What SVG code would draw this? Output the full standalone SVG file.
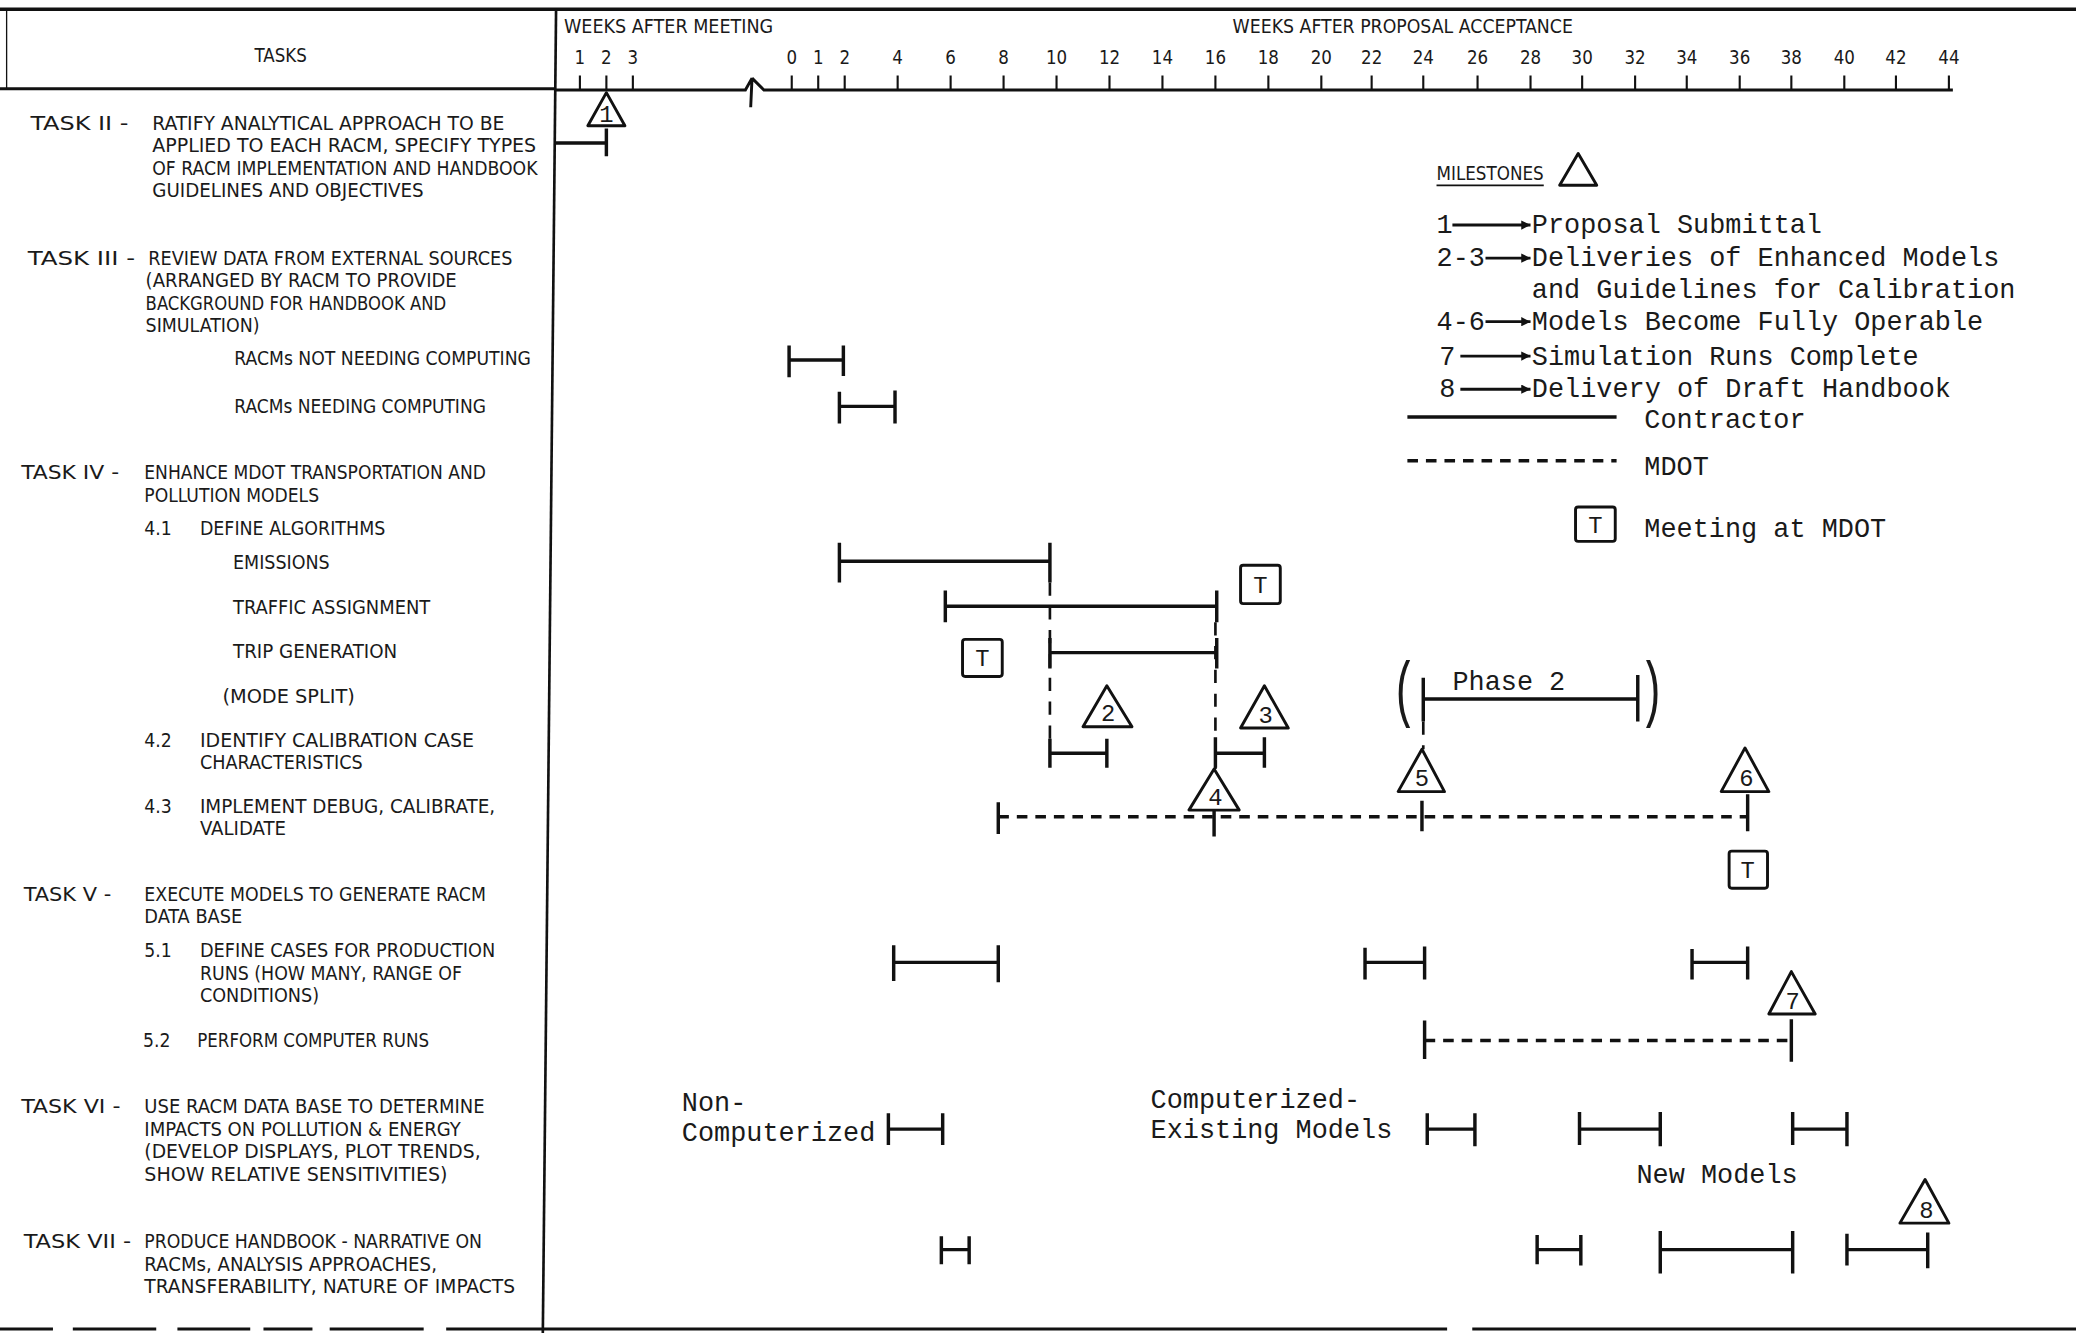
<svg xmlns="http://www.w3.org/2000/svg" width="2076" height="1333" viewBox="0 0 2076 1333">
<style>
.t{font-family:"DejaVu Sans Condensed","Liberation Sans Narrow","DejaVu Sans","Liberation Sans",sans-serif;font-size:14.5px;fill:#1a1a1a}
.k{font-size:14px}
.m{font-family:"Liberation Mono","DejaVu Sans Mono",monospace;font-size:20.3px;fill:#1a1a1a}
.d{font-family:"Liberation Mono","DejaVu Sans Mono",monospace;font-size:18px;fill:#1a1a1a;text-anchor:middle}
.n{text-anchor:middle}
.bar{fill:none;stroke:#111;stroke-width:2.6}
.dash{fill:none;stroke:#111;stroke-width:2.6;stroke-dasharray:8 6}
.vd{fill:none;stroke:#111;stroke-width:2;stroke-dasharray:10 8}
.tri{fill:#fff;stroke:#111;stroke-width:2.2;stroke-linejoin:round}
.box{fill:#fff;stroke:#111;stroke-width:2.2}
.ln{fill:none;stroke:#111}
</style>
<defs>
<marker id="ah" viewBox="0 0 10 10" refX="10" refY="5" markerWidth="11" markerHeight="7" markerUnits="userSpaceOnUse" orient="auto"><path d="M0,0 L10,5 L0,10 z" fill="#111"/></marker>
</defs>
<rect width="2076" height="1333" fill="#fff"/>
<g transform="scale(1.32398,1.32373)">
<g id="frame">
<path class="ln" stroke-width="2.8" d="M0,7 H1568"/>
<path class="ln" stroke-width="1" d="M5,8 V68"/>
<path class="ln" stroke-width="2.2" d="M0,67 H419"/>
<path class="ln" stroke-width="2" d="M420,7 L410,1007"/>
<path class="ln" stroke-width="2.2" d="M0,1004 H40 M55,1004 H118 M134,1004 H189 M199,1004 H236 M249,1004 H320 M337,1004 H1093 M1112,1004 H1568"/>
</g>
<g id="axis">
<text class="t n k" x="212" y="47">TASKS</text>
<text class="t k" x="426" y="25" textLength="158" lengthAdjust="spacingAndGlyphs">WEEKS AFTER MEETING</text>
<text class="t k" x="931" y="25" textLength="257" lengthAdjust="spacingAndGlyphs">WEEKS AFTER PROPOSAL ACCEPTANCE</text>
<path class="ln" stroke-width="2.2" d="M419,68 H563 L568,59 L567,81 M568,59 L577,68 H1475"/>
<path class="ln" stroke-width="1.6" d="M438,57V68 M458,57V68 M478,57V68 M598,57V68 M618,57V68 M638,57V68 M678,57V68 M718,57V68 M758,57V68 M798,57V68 M838,57V68 M878,57V68 M918,57V68 M958,57V68 M998,57V68 M1036,57V68 M1075,57V68 M1116,57V68 M1156,57V68 M1195,57V68 M1235,57V68 M1274,57V68 M1314,57V68 M1353,57V68 M1393,57V68 M1432,57V68 M1472,57V68"/>
<g class="t n k">
<text x="438" y="48">1</text><text x="458" y="48">2</text><text x="478" y="48">3</text>
<text x="598" y="48">0</text><text x="618" y="48">1</text><text x="638" y="48">2</text><text x="678" y="48">4</text><text x="718" y="48">6</text><text x="758" y="48">8</text>
<text x="798" y="48">10</text><text x="838" y="48">12</text><text x="878" y="48">14</text><text x="918" y="48">16</text><text x="958" y="48">18</text><text x="998" y="48">20</text>
<text x="1036" y="48">22</text><text x="1075" y="48">24</text><text x="1116" y="48">26</text><text x="1156" y="48">28</text><text x="1195" y="48">30</text><text x="1235" y="48">32</text>
<text x="1274" y="48">34</text><text x="1314" y="48">36</text><text x="1353" y="48">38</text><text x="1393" y="48">40</text><text x="1432" y="48">42</text><text x="1472" y="48">44</text>
</g>
</g>
<g id="task-labels" class="t">
<g id="task2-label">
<text x="23" y="98" textLength="74" lengthAdjust="spacingAndGlyphs">TASK II -</text>
<text x="115" y="98" textLength="266" lengthAdjust="spacingAndGlyphs">RATIFY ANALYTICAL APPROACH TO BE</text>
<text x="115" y="115" textLength="290" lengthAdjust="spacingAndGlyphs">APPLIED TO EACH RACM, SPECIFY TYPES</text>
<text x="115" y="132" textLength="291" lengthAdjust="spacingAndGlyphs">OF RACM IMPLEMENTATION AND HANDBOOK</text>
<text x="115" y="149" textLength="205" lengthAdjust="spacingAndGlyphs">GUIDELINES AND OBJECTIVES</text>
</g>
<g id="task3-label">
<text x="21" y="200" textLength="81" lengthAdjust="spacingAndGlyphs">TASK III -</text>
<text x="112" y="200" textLength="275" lengthAdjust="spacingAndGlyphs">REVIEW DATA FROM EXTERNAL SOURCES</text>
<text x="110" y="217" textLength="235" lengthAdjust="spacingAndGlyphs">(ARRANGED BY RACM TO PROVIDE</text>
<text x="110" y="234" textLength="227" lengthAdjust="spacingAndGlyphs">BACKGROUND FOR HANDBOOK AND</text>
<text x="110" y="251" textLength="86" lengthAdjust="spacingAndGlyphs">SIMULATION)</text>
<text x="177" y="276" textLength="224" lengthAdjust="spacingAndGlyphs">RACMs NOT NEEDING COMPUTING</text>
<text x="177" y="312" textLength="190" lengthAdjust="spacingAndGlyphs">RACMs NEEDING COMPUTING</text>
</g>
<g id="task4-label">
<text x="16" y="362" textLength="74" lengthAdjust="spacingAndGlyphs">TASK IV -</text>
<text x="109" y="362" textLength="258" lengthAdjust="spacingAndGlyphs">ENHANCE MDOT TRANSPORTATION AND</text>
<text x="109" y="379" textLength="132" lengthAdjust="spacingAndGlyphs">POLLUTION MODELS</text>
<text x="109" y="404">4.1</text>
<text x="151" y="404" textLength="140" lengthAdjust="spacingAndGlyphs">DEFINE ALGORITHMS</text>
<text x="176" y="430" textLength="73" lengthAdjust="spacingAndGlyphs">EMISSIONS</text>
<text x="176" y="464" textLength="149" lengthAdjust="spacingAndGlyphs">TRAFFIC ASSIGNMENT</text>
<text x="176" y="497" textLength="124" lengthAdjust="spacingAndGlyphs">TRIP GENERATION</text>
<text x="168" y="531" textLength="100" lengthAdjust="spacingAndGlyphs">(MODE SPLIT)</text>
<text x="109" y="564">4.2</text>
<text x="151" y="564" textLength="207" lengthAdjust="spacingAndGlyphs">IDENTIFY CALIBRATION CASE</text>
<text x="151" y="581" textLength="123" lengthAdjust="spacingAndGlyphs">CHARACTERISTICS</text>
<text x="109" y="614">4.3</text>
<text x="151" y="614" textLength="223" lengthAdjust="spacingAndGlyphs">IMPLEMENT DEBUG, CALIBRATE,</text>
<text x="151" y="631" textLength="65" lengthAdjust="spacingAndGlyphs">VALIDATE</text>
</g>
<g id="task5-label">
<text x="18" y="681" textLength="66" lengthAdjust="spacingAndGlyphs">TASK V -</text>
<text x="109" y="681" textLength="258" lengthAdjust="spacingAndGlyphs">EXECUTE MODELS TO GENERATE RACM</text>
<text x="109" y="697" textLength="74" lengthAdjust="spacingAndGlyphs">DATA BASE</text>
<text x="109" y="723">5.1</text>
<text x="151" y="723" textLength="223" lengthAdjust="spacingAndGlyphs">DEFINE CASES FOR PRODUCTION</text>
<text x="151" y="740" textLength="198" lengthAdjust="spacingAndGlyphs">RUNS (HOW MANY, RANGE OF</text>
<text x="151" y="757" textLength="90" lengthAdjust="spacingAndGlyphs">CONDITIONS)</text>
<text x="108" y="791">5.2</text>
<text x="149" y="791" textLength="175" lengthAdjust="spacingAndGlyphs">PERFORM COMPUTER RUNS</text>
</g>
<g id="task6-label">
<text x="16" y="841" textLength="75" lengthAdjust="spacingAndGlyphs">TASK VI -</text>
<text x="109" y="841" textLength="257" lengthAdjust="spacingAndGlyphs">USE RACM DATA BASE TO DETERMINE</text>
<text x="109" y="858" textLength="239" lengthAdjust="spacingAndGlyphs">IMPACTS ON POLLUTION &amp; ENERGY</text>
<text x="109" y="875" textLength="254" lengthAdjust="spacingAndGlyphs">(DEVELOP DISPLAYS, PLOT TRENDS,</text>
<text x="109" y="892" textLength="229" lengthAdjust="spacingAndGlyphs">SHOW RELATIVE SENSITIVITIES)</text>
</g>
<g id="task7-label">
<text x="18" y="943" textLength="81" lengthAdjust="spacingAndGlyphs">TASK VII -</text>
<text x="109" y="943" textLength="255" lengthAdjust="spacingAndGlyphs">PRODUCE HANDBOOK - NARRATIVE ON</text>
<text x="109" y="960" textLength="221" lengthAdjust="spacingAndGlyphs">RACMs, ANALYSIS APPROACHES,</text>
<text x="109" y="977" textLength="280" lengthAdjust="spacingAndGlyphs">TRANSFERABILITY, NATURE OF IMPACTS</text>
</g>
</g>
<g id="connectors">
<path class="vd" d="M793,440 V559"/>
<path class="vd" d="M918,470 V581"/>
<path class="vd" d="M1075,545 V566"/>
</g>
<g id="bars">
<path id="bar-task2" class="bar" d="M419,108 H458 M458,97 V118"/>
<path id="bar-3a" class="bar" d="M596,261 V285 M596,272 H637 M637,261 V284"/>
<path id="bar-3b" class="bar" d="M634,296 V320 M634,307 H676 M676,295 V320"/>
<path id="bar-emissions" class="bar" d="M634,410 V440 M634,424 H793 M793,410 V440"/>
<path id="bar-traffic" class="bar" d="M714,446 V470 M714,458 H919 M919,446 V470"/>
<path id="bar-tripgen" class="bar" d="M793,482 V505 M793,493 H919 M919,482 V505"/>
<path id="bar-42a" class="bar" d="M793,558 V580 M793,569 H836 M836,558 V580"/>
<path id="bar-42b" class="bar" d="M918,557 V580 M918,569 H955 M955,557 V580"/>
<path id="bar-phase2" class="bar" d="M1075,512 V545 M1075,528 H1237 M1237,510 V545"/>
<path id="bar-43" class="dash" d="M754,617 H1320"/>
<path class="bar" d="M754,606 V630 M917,605 V632 M1074,605 V628 M1320,600 V628"/>
<path id="bar-51a" class="bar" d="M675,714 V741 M675,727 H754 M754,714 V742"/>
<path id="bar-51b" class="bar" d="M1031,716 V740 M1031,727 H1076 M1076,715 V740"/>
<path id="bar-51c" class="bar" d="M1278,717 V740 M1278,727 H1320 M1320,715 V740"/>
<path id="bar-52" class="dash" d="M1076,786 H1353"/>
<path class="bar" d="M1076,771 V800 M1353,770 V802"/>
<path id="bar-6a" class="bar" d="M671,841 V865 M671,853 H712 M712,841 V865"/>
<path id="bar-6b" class="bar" d="M1078,841 V865 M1078,853 H1114 M1114,841 V866"/>
<path id="bar-6c" class="bar" d="M1193,840 V865 M1193,853 H1254 M1254,840 V866"/>
<path id="bar-6d" class="bar" d="M1354,840 V865 M1354,853 H1395 M1395,840 V866"/>
<path id="bar-7a" class="bar" d="M711,934 V955 M711,944 H732 M732,934 V955"/>
<path id="bar-7b" class="bar" d="M1161,933 V955 M1161,944 H1194 M1194,933 V956"/>
<path id="bar-7c" class="bar" d="M1254,930 V962 M1254,944 H1354 M1354,930 V962"/>
<path id="bar-7d" class="bar" d="M1395,932 V956 M1395,944 H1456 M1456,931 V958"/>
</g>
<g id="bar-labels" class="m">
<text x="1097" y="521">Phase 2</text>
<text x="1051" y="539" font-size="54" transform="translate(1051,539) scale(0.6,1) translate(-1051,-539)">(</text>
<text x="1238" y="539" font-size="54" transform="translate(1238,539) scale(0.6,1) translate(-1238,-539)">)</text>
<text x="515" y="839">Non-</text>
<text x="515" y="862">Computerized</text>
<text x="869" y="837">Computerized-</text>
<text x="869" y="860">Existing Models</text>
<text x="1236" y="894">New Models</text>
</g>
<g id="milestone-1"><path class="tri" d="M458,70 L472,95 L444,95 Z"/><text class="d" x="458" y="92" font-size="15">1</text></g>
<g id="milestone-2"><path class="tri" d="M836,518 L855,549 L818,549 Z"/><text class="d" x="837" y="545">2</text></g>
<g id="milestone-3"><path class="tri" d="M955,518 L973,550 L937,550 Z"/><text class="d" x="956" y="546">3</text></g>
<g id="milestone-4"><path class="tri" d="M917,581 L936,612 L898,612 Z"/><text class="d" x="918" y="608">4</text></g>
<g id="milestone-5"><path class="tri" d="M1074,566 L1091,598 L1056,598 Z"/><text class="d" x="1074" y="594">5</text></g>
<g id="milestone-6"><path class="tri" d="M1318,565 L1336,598 L1300,598 Z"/><text class="d" x="1319" y="594">6</text></g>
<g id="milestone-7"><path class="tri" d="M1353,734 L1371,766 L1336,766 Z"/><text class="d" x="1354" y="762">7</text></g>
<g id="milestone-8"><path class="tri" d="M1454,891 L1472,924 L1435,924 Z"/><text class="d" x="1455" y="920">8</text></g>
<g id="meeting-1"><rect class="box" x="937" y="427" width="30" height="29" rx="2"/><text class="d" x="952" y="448">T</text></g>
<g id="meeting-2"><rect class="box" x="727" y="483" width="30" height="28" rx="2"/><text class="d" x="742" y="503">T</text></g>
<g id="meeting-3"><rect class="box" x="1306" y="643" width="29" height="28" rx="2"/><text class="d" x="1320" y="663">T</text></g>
<g id="legend">
<text class="t k" x="1085" y="136" textLength="81" lengthAdjust="spacingAndGlyphs">MILESTONES</text>
<path class="ln" stroke-width="1.4" d="M1085,140 H1166"/>
<path class="tri" d="M1192,116 L1206,140 L1178,140 Z"/>
<g class="m">
<text x="1085" y="176">1</text>
<text x="1085" y="201">2-3</text>
<text x="1085" y="249">4-6</text>
<text x="1087" y="276">7</text>
<text x="1087" y="300">8</text>
<text x="1157" y="176">Proposal Submittal</text>
<text x="1157" y="201">Deliveries of Enhanced Models</text>
<text x="1157" y="225">and Guidelines for Calibration</text>
<text x="1157" y="249">Models Become Fully Operable</text>
<text x="1157" y="276">Simulation Runs Complete</text>
<text x="1157" y="300">Delivery of Draft Handbook</text>
<text x="1242" y="323">Contractor</text>
<text x="1242" y="359">MDOT</text>
<text x="1242" y="406">Meeting at MDOT</text>
</g>
<g class="ln" stroke-width="2.2" marker-end="url(#ah)">
<path d="M1097,170 H1156"/>
<path d="M1122,195 H1156"/>
<path d="M1122,243 H1156"/>
<path d="M1103,269 H1156"/>
<path d="M1103,294 H1156"/>
</g>
<path class="bar" d="M1063,315 H1221"/>
<path class="dash" d="M1063,348 H1221"/>
<rect class="box" x="1190" y="383" width="30" height="26" rx="2"/><text class="d" x="1205" y="403">T</text>
</g>
</g>
</svg>
